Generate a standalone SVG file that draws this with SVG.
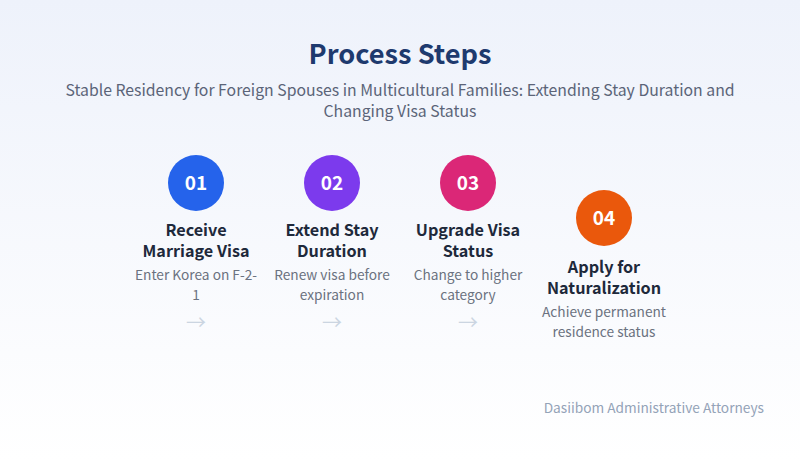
<svg xmlns="http://www.w3.org/2000/svg" width="800" height="460" viewBox="0 0 800 460">
<defs>
<linearGradient id="bg" x1="0" y1="0" x2="0" y2="1">
<stop offset="0" stop-color="#eef2fb"/>
<stop offset="1" stop-color="#ffffff"/>
</linearGradient>
<style>
text{font-family:"Noto Sans CJK KR","Noto Sans",sans-serif;text-anchor:middle}
.t{font-size:27.2px;font-weight:700;fill:#1e3a6e}
.s{font-size:15.8px;fill:#5b6478}
.num{font-size:19px;font-weight:700;fill:#ffffff}
.h{font-size:16.2px;font-weight:700;fill:#1e293b}
.d{font-size:13.7px;fill:#6b7280}
.a{font-size:20px;fill:#cbd5e1}
.f{font-size:13.7px;fill:#94a3b8;text-anchor:end}
</style>
</defs>
<rect width="800" height="460" fill="url(#bg)"/>
<text class="t" x="400" y="64">Process Steps</text>
<text class="s" x="400" y="96">Stable Residency for Foreign Spouses in Multicultural Families: Extending Stay Duration and</text>
<text class="s" x="400" y="117">Changing Visa Status</text>
<g id="step1">
<circle cx="196" cy="183" r="28" fill="#2563eb"/>
<text class="num" x="196" y="190">01</text>
<text class="h" x="196" y="236">Receive</text>
<text class="h" x="196" y="257">Marriage Visa</text>
<text class="d" x="196" y="280">Enter Korea on F-2-</text>
<text class="d" x="196" y="300">1</text>
</g>
<g id="step2">
<circle cx="332" cy="183" r="28" fill="#7c3aed"/>
<text class="num" x="332" y="190">02</text>
<text class="h" x="332" y="236">Extend Stay</text>
<text class="h" x="332" y="257">Duration</text>
<text class="d" x="332" y="280">Renew visa before</text>
<text class="d" x="332" y="300">expiration</text>
</g>
<g id="step3">
<circle cx="468" cy="183" r="28" fill="#db2777"/>
<text class="num" x="468" y="190">03</text>
<text class="h" x="468" y="236">Upgrade Visa</text>
<text class="h" x="468" y="257">Status</text>
<text class="d" x="468" y="280">Change to higher</text>
<text class="d" x="468" y="300">category</text>
</g>
<g id="step4">
<circle cx="604" cy="218" r="28" fill="#ea580c"/>
<text class="num" x="604" y="225">04</text>
<text class="h" x="604" y="273">Apply for</text>
<text class="h" x="604" y="294">Naturalization</text>
<text class="d" x="604" y="317">Achieve permanent</text>
<text class="d" x="604" y="337">residence status</text>
</g>
<g id="connectors">
<text class="a" x="196" y="330">→</text>
<text class="a" x="332" y="330">→</text>
<text class="a" x="468" y="330">→</text>
</g>
<text class="f" x="764" y="413">Dasiibom Administrative Attorneys</text>
</svg>
